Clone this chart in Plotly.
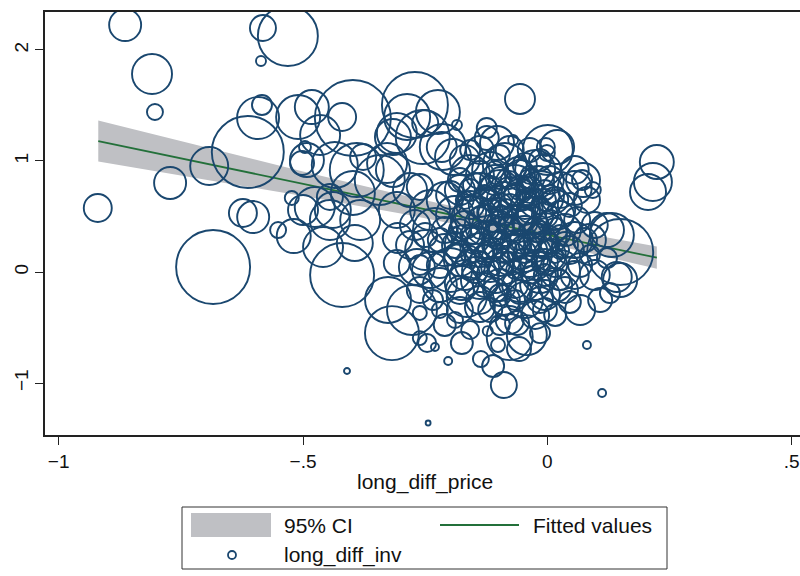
import plotly.graph_objects as go

# ---------------- data ----------------
long_diff_price = [
    -0.864, -0.809, -0.803, -0.920, -0.772, -0.692, -0.613, -0.582, -0.586, -0.531,
    -0.684, -0.584, -0.592, -0.623, -0.602, -0.551, -0.519, -0.523, -0.500, -0.476,
    -0.445, -0.394, -0.420, -0.459, -0.398, -0.439, -0.383, -0.308, -0.343, -0.445,
    -0.510, -0.482, -0.420, -0.398, -0.465, -0.496, -0.502, -0.435, -0.377, -0.308,
    -0.287, -0.271, -0.224, -0.056, -0.124, -0.185, -0.070, 0.001, -0.255, -0.316,
    -0.216, -0.124, -0.193, -0.316, -0.281, -0.390, -0.328, -0.261, -0.214, -0.103,
    -0.250, -0.492, -0.003,
    0.224, 0.216, 0.206, 0.020, 0.149, 0.149, 0.128, 0.046, -0.015, 0.081,
    0.112, 0.073, 0.081, 0.093, 0.122, 0.061, -0.001, 0.132, 0.122, 0.142,
    0.056, 0.071,
    -0.318, -0.326, -0.277, -0.261, -0.261, -0.246, -0.230, -0.410, -0.244, -0.203,
    -0.175, -0.136, -0.111, -0.089, -0.122, -0.101, -0.058, -0.042, -0.308, -0.267,
    -0.234, -0.220, -0.189, -0.165, -0.138, -0.083, -0.062, -0.175, -0.077, -0.306,
    -0.158, -0.117, -0.087, -0.056, -0.025, 0.005, 0.026, -0.015, -0.056, -0.097,
    -0.138, -0.179, -0.210, -0.240, -0.271, -0.230, -0.189, -0.148, -0.107, -0.066,
    -0.025, 0.016, 0.046, 0.036, -0.005, -0.046, -0.087, -0.128, -0.169, -0.210,
    -0.250, -0.281, -0.240, -0.199, -0.158, -0.117, -0.077, -0.036, 0.005, 0.046,
    0.077, 0.026, -0.015, -0.056, -0.097, -0.138, -0.179, -0.220, -0.261, -0.087,
    -0.046, -0.005, 0.036, -0.117, -0.025, 0.016, -0.179, -0.210, -0.097, -0.158,
    -0.046, -0.077, -0.117, -0.036, -0.158, -0.097, -0.189, -0.066, -0.128, -0.015,
    0.026, 0.067, 0.097, 0.097, 0.108, 0.067, -0.138, -0.097, -0.036, -0.169,
    -0.077, -0.005, -0.046, -0.087, -0.158, -0.220, -0.189, -0.261, 0.056, 0.087,
    -0.015,
    -0.066, -0.036, -0.097, -0.056, -0.025, -0.107, -0.077, -0.046, -0.117, -0.005,
    -0.148, -0.107, -0.066, -0.036, 0.005, -0.005, -0.046, -0.128, -0.087, -0.046,
    -0.005, -0.169, -0.128, -0.087, -0.056, -0.015, 0.016, 0.026, -0.138, -0.097,
    -0.056, -0.025, 0.016, -0.107, -0.066, -0.025, -0.148, -0.179, -0.210, -0.199,
    -0.158, -0.077, -0.015, 0.056, 0.056, 0.087, -0.220, -0.250, -0.138, -0.005,
    -0.077, 0.016, -0.107, -0.036, -0.169,
    -0.138, -0.097, -0.060, -0.019, 0.016, -0.036, -0.077, -0.117, -0.158, -0.117,
    -0.077, -0.036, 0.005, -0.148, -0.107, -0.066, -0.025, 0.005, -0.117, -0.087,
    -0.046, -0.005, -0.128, -0.169, -0.189, -0.056, -0.097, -0.015, 0.026, 0.036,
    -0.179, -0.046, -0.015, -0.097, -0.138, -0.066, -0.036, -0.117, -0.158, 0.016,
    -0.128, -0.056, -0.005, -0.087, -0.046, -0.138, -0.015, -0.097, -0.046, -0.077,
    -0.005, -0.138, -0.179, 0.026, -0.066, -0.107, -0.036, -0.158,
]

long_diff_inv = [
    2.225, 1.784, 1.441, 0.577, 0.802, 0.955, 1.081, 2.198, 1.901, 2.126,
    0.045, 1.505, 1.387, 0.532, 0.495, 0.378, 0.324, 0.667, 0.559, 0.586,
    0.468, 0.261, -0.027, 0.225, 0.712, 0.559, 0.468, 0.559, 0.829, 0.676,
    1.396, 1.486, 1.396, 1.387, 1.234, 1.126, 0.982, 0.964, 1.036, 1.252,
    1.396, 1.505, 1.441, 1.559, 1.297, 1.324, 1.189, 1.099, 1.216, 1.216,
    1.126, 1.207, 1.036, 0.919, 0.739, 0.919, 0.982, 0.766, 1.126, 1.162,
    1.342, 1.009, 1.126,
    0.991, 0.811, 0.721, 1.126, 0.180, -0.072, -0.189, -0.270, -0.550, -0.658,
    -1.090, 0.829, 0.649, 0.739, 0.378, 0.468, 1.072, 0.333, 0.126, -0.045,
    0.757, 0.829,
    -0.550, -0.252, -0.342, -0.369, -0.595, -0.640, -0.676, -0.892, -1.360, -0.802,
    -0.640, -0.784, -0.847, -1.018, -0.532, -0.658, -0.694, -0.568, 0.081, 0.045,
    -0.252, -0.342, -0.432, -0.225, -0.315, -0.315, -0.459, -0.099, -0.586, 0.306,
    0.874, 0.919, 0.964, 0.874, 0.919, 0.829, 0.739, 0.694, 0.694, 0.739,
    0.694, 0.739, 0.649, 0.559, 0.423, 0.378, 0.514, 0.468, 0.514, 0.559,
    0.514, 0.559, 0.604, 0.378, 0.333, 0.333, 0.288, 0.288, 0.243, 0.198,
    0.198, 0.243, 0.018, 0.018, 0.063, 0.090, 0.126, 0.153, 0.153, 0.198,
    0.288, 0.018, -0.027, -0.072, -0.117, -0.072, -0.162, -0.117, -0.162, -0.252,
    -0.252, -0.207, -0.162, -0.342, -0.387, -0.387, -0.342, -0.477, -0.477, -0.523,
    0.649, 0.423, 0.378, 0.243, 0.333, 0.604, 0.333, 0.018, 0.153, 0.108,
    0.198, 0.063, -0.027, 0.423, -0.252, -0.342, 1.099, 1.054, 1.099, 1.009,
    0.829, 0.649, 0.450, 0.198, 0.604, 0.288, 0.153, 0.063, 0.288, 0.153,
    0.423,
    0.694, 0.559, 0.423, 0.288, 0.378, 0.243, 0.514, 0.108, 0.649, 0.243,
    0.784, 0.829, 0.784, 0.739, 0.694, 0.919, 0.964, 0.604, 0.649, 0.604,
    0.514, 0.423, 0.423, 0.378, 0.468, 0.288, 0.378, 0.514, 0.198, 0.090,
    0.198, 0.063, 0.063, -0.027, -0.117, -0.117, 0.018, 0.108, 0.378, 0.694,
    1.099, 1.099, 1.009, 0.919, -0.027, 0.288, 0.063, 0.333, -0.252, -0.342,
    -0.432, -0.117, 0.919, 0.829, 0.649,
    0.874, 0.847, 0.919, 0.811, 0.649, 0.667, 0.721, 0.757, 0.541, 0.541,
    0.604, 0.450, 0.450, 0.288, 0.333, 0.243, 0.198, 0.261, 0.198, 0.036,
    0.036, -0.027, -0.117, -0.027, 0.243, -0.180, -0.207, -0.252, -0.072, 0.243,
    0.829, 0.784, 0.604, 0.514, 0.378, 0.360, -0.027, 0.036, 0.153, 0.153,
    0.694, 0.757, 0.739, 0.541, 0.514, 0.486, 0.360, 0.288, 0.180, 0.090,
    0.090, 0.090, 0.378, 0.333, -0.252, -0.162, 0.874, 0.739,
]

weight = [
    256, 400, 64, 196, 256, 361, 1296, 169, 25, 900,
    1369, 100, 441, 196, 256, 64, 289, 49, 225, 400,
    400, 324, 1024, 400, 484, 324, 400, 324, 625, 169,
    484, 289, 196, 1444, 400, 36, 144, 529, 169, 400,
    529, 1089, 484, 225, 100, 25, 25, 625, 729, 324,
    225, 144, 324, 289, 289, 729, 400, 169, 529, 289,
    169, 289, 81,
    289, 361, 324, 289, 1089, 289, 100, 121, 100, 16,
    16, 289, 169, 64, 289, 169, 64, 484, 100, 225,
    289, 100,
    729, 529, 625, 49, 49, 81, 16, 9, 6, 16,
    121, 64, 121, 169, 25, 49, 144, 400, 169, 324,
    100, 64, 64, 400, 225, 169, 144, 289, 529, 225,
    400, 324, 484, 225, 400, 196, 324, 576, 256, 400,
    484, 225, 324, 400, 225, 484, 361, 576, 289, 625,
    324, 400, 144, 256, 484, 361, 529, 324, 400, 256,
    400, 196, 324, 484, 225, 400, 289, 484, 256, 196,
    144, 400, 324, 484, 256, 361, 196, 289, 169, 225,
    324, 225, 169, 144, 196, 121, 169, 121, 100, 81,
    64, 100, 81, 121, 100, 144, 64, 81, 100, 64,
    81, 144, 225, 169, 144, 225, 196, 100, 144, 225,
    81, 121, 169, 144, 196, 144, 121, 100, 324, 100,
    81,
    121, 169, 196, 100, 144, 169, 64, 144, 100, 196,
    144, 225, 400, 169, 100, 256, 144, 256, 324, 196,
    169, 196, 400, 256, 225, 256, 144, 196, 289, 196,
    361, 225, 144, 324, 169, 225, 169, 256, 169, 196,
    100, 196, 121, 196, 196, 256, 169, 144, 196, 144,
    196, 289, 81, 121, 81,
    196, 121, 169, 256, 169, 100, 225, 144, 256, 169,
    121, 289, 144, 196, 121, 225, 144, 100, 144, 256,
    169, 121, 144, 225, 169, 144, 121, 169, 100, 169,
    144, 81, 81, 81, 81, 81, 81, 81, 81, 64,
    100, 144, 100, 169, 100, 121, 121, 100, 121, 100,
    169, 121, 121, 100, 100, 144, 81, 121,
]

# linear fit and 95% CI
fit_x = [-0.919, -0.7, -0.5, -0.3, -0.1, 0.1, 0.224]
fit_y = [1.180, 0.979, 0.795, 0.611, 0.427, 0.243, 0.129]
ci_lo = [0.995, 0.834, 0.684, 0.526, 0.353, 0.158, 0.029]
ci_hi = [1.365, 1.124, 0.906, 0.696, 0.501, 0.328, 0.229]

x_ticks = [-1, -0.5, 0, 0.5]
x_tick_labels = ["\u22121", "\u2212.5", "0", ".5"]
y_ticks = [-1, 0, 1, 2]
y_tick_labels = ["\u22121", "0", "1", "2"]

# ---------------- style ----------------
NAVY = "#1a476f"
GREEN = "#23703a"
CI_GRAY = "#bfc0c4"
AXIS = "#222222"
FONT = "Liberation Sans, Arial, sans-serif"
FS = 21
TFS = 19

W, H = 800, 576
ML, MR, MT, MB = 45, 0, 12, 141
PW, PH = W - ML - MR, H - MT - MB

def px(xp):
    return (xp - ML) / PW

def py(yp):
    return (H - MB - yp) / PH

fig = go.Figure()

fig.add_trace(go.Scatter(x=fit_x, y=ci_hi, mode="lines", line=dict(width=0),
                         hoverinfo="skip", showlegend=False))
fig.add_trace(go.Scatter(x=fit_x, y=ci_lo, mode="lines", line=dict(width=0),
                         fill="tonexty", fillcolor=CI_GRAY, showlegend=False))
fig.add_trace(go.Scatter(x=fit_x, y=fit_y, mode="lines",
                         line=dict(color=GREEN, width=1.8), showlegend=False))
fig.add_trace(go.Scatter(
    x=long_diff_price, y=long_diff_inv, mode="markers", showlegend=False,
    marker=dict(symbol="circle-open", size=weight, sizemode="area", sizeref=0.5,
                opacity=1, color=NAVY, line=dict(color=NAVY, width=1.9)),
))

shapes = [
    dict(type="rect", xref="paper", yref="paper", x0=px(182), x1=px(667),
         y0=py(569), y1=py(507), line=dict(color="#333333", width=1),
         fillcolor="white", layer="above"),
    dict(type="rect", xref="paper", yref="paper", x0=px(191), x1=px(271),
         y0=py(537), y1=py(513), line=dict(width=0), fillcolor=CI_GRAY),
    dict(type="line", xref="paper", yref="paper", x0=px(440), x1=px(519),
         y0=py(525), y1=py(525), line=dict(color=GREEN, width=2)),
    dict(type="circle", xref="paper", yref="paper", x0=px(228), x1=px(236),
         y0=py(559), y1=py(551), line=dict(color=NAVY, width=1.8)),
]

annotations = [
    dict(text="95% CI", xref="paper", yref="paper", x=px(282), y=py(525),
         xanchor="left", yanchor="middle", showarrow=False,
         font=dict(family=FONT, size=FS, color="#111")),
    dict(text="Fitted values", xref="paper", yref="paper", x=px(531), y=py(525),
         xanchor="left", yanchor="middle", showarrow=False,
         font=dict(family=FONT, size=FS, color="#111")),
    dict(text="long_diff_inv", xref="paper", yref="paper", x=px(282), y=py(555),
         xanchor="left", yanchor="middle", showarrow=False,
         font=dict(family=FONT, size=FS, color="#111")),
    dict(text="long_diff_price", xref="paper", yref="paper", x=px(425), y=py(482),
         xanchor="center", yanchor="middle", showarrow=False,
         font=dict(family=FONT, size=FS, color="#111")),
]

fig.update_layout(
    width=W, height=H,
    margin=dict(l=ML, r=MR, t=MT, b=MB, autoexpand=False),
    paper_bgcolor="white", plot_bgcolor="white",
    font=dict(family=FONT, size=TFS, color="#111"),
    shapes=shapes, annotations=annotations,
    xaxis=dict(range=[-1.028, 0.517], tickvals=x_ticks, ticktext=x_tick_labels,
               ticks="outside", ticklen=8, tickwidth=1.2, tickcolor=AXIS,
               showline=True, linecolor=AXIS, linewidth=1.6, mirror=True,
               showgrid=False, zeroline=False, tickfont=dict(size=TFS)),
    yaxis=dict(range=[-1.468, 2.342], tickvals=y_ticks, ticktext=y_tick_labels,
               ticks="outside", ticklen=8, tickwidth=1.2, tickcolor=AXIS,
               showline=True, linecolor=AXIS, linewidth=1.6, mirror=False,
               showgrid=False, zeroline=False, tickangle=-90, tickfont=dict(size=TFS)),
    showlegend=False,
)

fig.write_html("out.html")
